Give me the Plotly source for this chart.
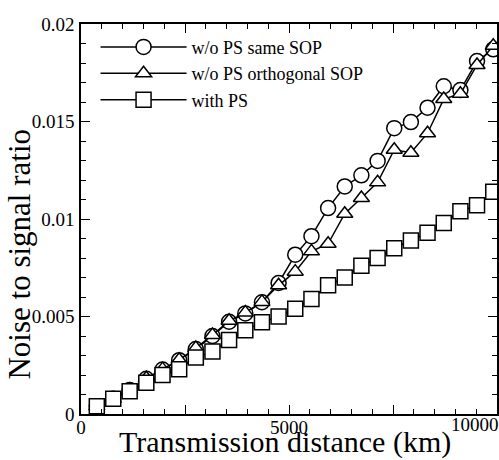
import plotly.graph_objects as go

distance_km = [380, 775, 1170, 1570, 1960, 2360, 2760, 3160, 3560, 3950,
               4350, 4750, 5150, 5540, 5940, 6340, 6740, 7130, 7530, 7930,
               8330, 8720, 9120, 9520, 9910]

same_sop = [0.0004, 0.00078, 0.00123, 0.00181, 0.00228, 0.00276, 0.00333, 0.0040,
            0.00473, 0.00516, 0.00573, 0.00672, 0.00817, 0.00912, 0.01056, 0.01167,
            0.01224, 0.01298, 0.01466, 0.01497, 0.01571, 0.01681, 0.01661, 0.0181,
            0.0187]

orthogonal_sop = [0.0004, 0.00078, 0.00125, 0.00183, 0.0023, 0.00278, 0.00338, 0.00405,
                  0.00478, 0.0052, 0.00575, 0.0066, 0.0073, 0.00834, 0.00873, 0.01027,
                  0.01108, 0.01188, 0.01355, 0.0134, 0.0144, 0.01615, 0.01642, 0.0179,
                  0.01888]

with_ps = [0.0004, 0.00078, 0.00117, 0.0016, 0.0020, 0.0023, 0.0029, 0.0032,
           0.0038, 0.0043, 0.0047, 0.0050, 0.0054, 0.0059, 0.0066, 0.0070,
           0.0076, 0.0080, 0.0085, 0.0089, 0.0093, 0.0098, 0.0104, 0.0107,
           0.0114]

series_names = ["w/o PS same SOP", "w/o PS orthogonal SOP", "with PS"]
x_tickvals = [0, 2500, 5000, 7500, 10000]
x_ticktext = ["0", "", "5000", "", ""]
x_last_label = "10000"
y_tickvals = [0, 0.005, 0.01, 0.015, 0.02]
y_ticktext = ["0", "0.005", "0.01", "0.015", "0.02"]
x_title = "Transmission distance (km)"
y_title = "Noise to signal ratio"

FONT = "Liberation Serif"

fig = go.Figure()
for name, vals, sym in zip(series_names, [same_sop, orthogonal_sop, with_ps],
                           ["circle", "triangle-up", "square"]):
    fig.add_trace(go.Scatter(
        x=distance_km, y=vals, name=name, mode="lines+markers",
        line=dict(color="black", width=1.5),
        marker=dict(symbol=sym, size=15 if sym != "triangle-up" else 14,
                    color="white", line=dict(color="black", width=1.5)),
        cliponaxis=False,
    ))

axis_common = dict(
    showline=True, linecolor="black", linewidth=1.5, mirror="ticks",
    ticks="inside", ticklen=9, tickwidth=1.2, tickcolor="black",
    showgrid=False, zeroline=False, automargin=False,
    tickfont=dict(family=FONT, size=19, color="black"),
)

fig.update_xaxes(range=[0, 10000], tickvals=x_tickvals, ticktext=x_ticktext,
                 minor=dict(dtick=500, ticks="inside", ticklen=5, tickcolor="black", tickwidth=1),
                 ticklabelstandoff=-5,
                 **axis_common)
fig.update_yaxes(range=[0, 0.02], tickvals=y_tickvals, ticktext=y_ticktext,
                 minor=dict(dtick=0.001, ticks="inside", ticklen=5, tickcolor="black", tickwidth=1),
                 ticklabelstandoff=1,
                 **axis_common)

# last x tick label sits right-aligned against the edge, as in the reference
fig.add_annotation(text=x_last_label, xref="paper", yref="paper", x=1, y=0,
                   xanchor="right", yanchor="top", xshift=4, yshift=2, showarrow=False,
                   font=dict(family=FONT, size=19, color="black"))

fig.add_annotation(text=x_title, xref="paper", yref="paper", x=0.49, y=0,
                   xanchor="center", yanchor="bottom", yshift=-47, showarrow=False,
                   font=dict(family=FONT, size=30, color="black"))

fig.add_annotation(text=y_title, textangle=-90, xref="paper", yref="paper",
                   x=-0.148, y=0.41, xanchor="center", yanchor="middle", showarrow=False,
                   font=dict(family=FONT, size=31, color="black"))

fig.update_layout(
    width=499, height=460,
    margin=dict(l=81, r=2, t=24, b=46),
    paper_bgcolor="white", plot_bgcolor="white",
    font=dict(family=FONT, color="black"),
    legend=dict(x=0.035, y=0.988, xanchor="left", yanchor="top",
                bgcolor="rgba(0,0,0,0)", font=dict(family=FONT, size=18, color="black"),
                itemwidth=86, tracegroupgap=0),
    showlegend=True,
)

fig.write_html("out.html", config={"displayModeBar": False},
               post_script="document.body.style.margin='0';document.body.style.overflow='hidden';")
